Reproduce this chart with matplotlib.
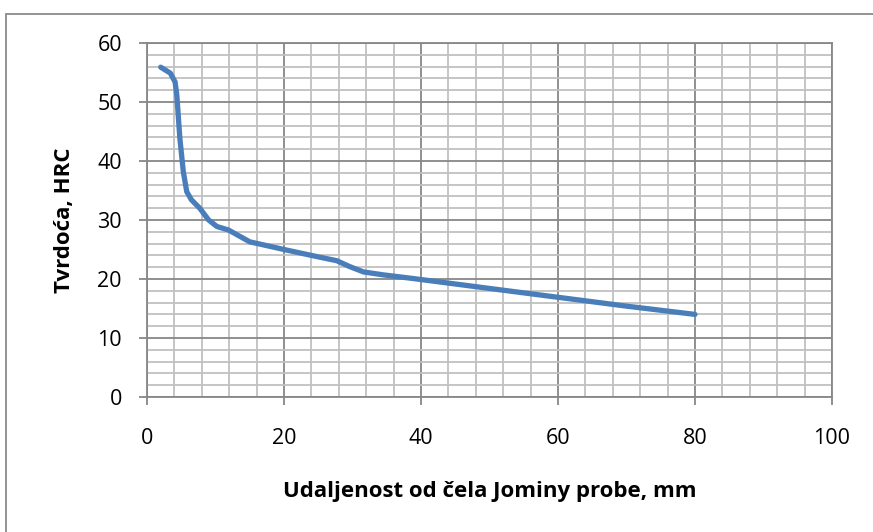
import matplotlib
matplotlib.use("Agg")
import matplotlib.pyplot as plt
from matplotlib.patches import Rectangle
from matplotlib.ticker import MultipleLocator

# Data
distance_mm = [2, 3.4, 4.1, 4.35, 4.8, 5.3, 5.8, 6.5, 7.7, 9.0, 10.2, 11.9, 15, 20,
               24.8, 27.7, 29.6, 31.6, 34.5, 39.4, 50, 60, 70, 80]
hardness_hrc = [55.9, 54.9, 53.4, 51.2, 43.8, 38.2, 34.8, 33.4, 32.0, 30.0, 28.9, 28.3, 26.3, 25.0,
                23.8, 23.1, 22.1, 21.2, 20.7, 20.0, 18.4, 16.9, 15.4, 14.0]
x_ticks = [0, 20, 40, 60, 80, 100]
y_ticks = [0, 10, 20, 30, 40, 50, 60]
x_label = "Udaljenost od čela Jominy probe, mm"
y_label = "Tvrdoća, HRC"

plt.rcParams['font.family'] = ['Open Sans', 'DejaVu Sans']

W, H = 873, 532
fig = plt.figure(figsize=(W / 100, H / 100), dpi=100)
ax = fig.add_axes([147 / W, 1 - 397 / H, (832 - 147) / W, (397 - 43) / H])

major_c = '#878787'
minor_c = '#c0c0c0'

ax.set_xlim(0, 100)
ax.set_ylim(0, 60)
ax.set_xticks(x_ticks)
ax.set_yticks(y_ticks)
ax.xaxis.set_minor_locator(MultipleLocator(4))
ax.yaxis.set_minor_locator(MultipleLocator(2))

ax.grid(which='minor', color=minor_c, linewidth=1.3, zorder=0)
ax.grid(which='major', color=major_c, linewidth=1.3, zorder=0.5)
ax.set_axisbelow(True)

for s in ax.spines.values():
    s.set_color(major_c)
    s.set_linewidth(1.3)

ax.tick_params(which='major', direction='out', width=1.3, color=major_c,
               labelsize=15.5, labelcolor='black')
ax.tick_params(axis='x', which='major', length=5.5, pad=17)
ax.tick_params(axis='y', which='major', length=6, pad=12)
ax.tick_params(which='minor', length=0)

ax.plot(distance_mm, hardness_hrc, color='#4A7EBB', linewidth=3.8,
        solid_joinstyle='round', solid_capstyle='round', zorder=3, clip_on=False)

ax.set_xlabel(x_label, fontsize=16, fontweight='bold', labelpad=23)
ax.set_ylabel(y_label, fontsize=16, fontweight='bold', labelpad=16)

# outer chart-area frame (extends beyond the image on right and bottom)
fig.patches.append(Rectangle((6 / W, -0.1), 2.0, 1.1 - 14 / H, transform=fig.transFigure,
                             fill=False, edgecolor='#8a8a8a', linewidth=1.3, zorder=-1))

fig.savefig('out.png', dpi=100)
